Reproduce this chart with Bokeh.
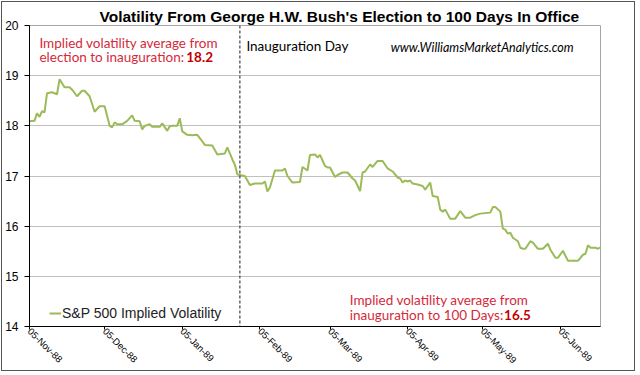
import math
import datetime as dt
import pandas as pd
from bokeh.plotting import figure
from bokeh.models import (ColumnDataSource, Span, Label, Legend, LegendItem,
                          FixedTicker, DatetimeTickFormatter, Range1d)
from bokeh.embed import file_html
from bokeh.resources import INLINE

# ---------------- data ----------------
dates = [
    "1988-11-05", "1988-11-07", "1988-11-08", "1988-11-09", "1988-11-10", "1988-11-11",
    "1988-11-12", "1988-11-14", "1988-11-16", "1988-11-17", "1988-11-19", "1988-11-21",
    "1988-11-22", "1988-11-24", "1988-11-26", "1988-11-27", "1988-11-29", "1988-12-01",
    "1988-12-03", "1988-12-05", "1988-12-07", "1988-12-08", "1988-12-09", "1988-12-10",
    "1988-12-12", "1988-12-14", "1988-12-16", "1988-12-17", "1988-12-19", "1988-12-20",
    "1988-12-21", "1988-12-23", "1988-12-24", "1988-12-27", "1988-12-28", "1988-12-30",
    "1988-12-31", "1989-01-01", "1989-01-03", "1989-01-04", "1989-01-05", "1989-01-07",
    "1989-01-09", "1989-01-11", "1989-01-13", "1989-01-14", "1989-01-17", "1989-01-19",
    "1989-01-22", "1989-01-23", "1989-01-25", "1989-01-26", "1989-01-27", "1989-01-28",
    "1989-01-30", "1989-02-01", "1989-02-03", "1989-02-06", "1989-02-07", "1989-02-08",
    "1989-02-09", "1989-02-11", "1989-02-14", "1989-02-15", "1989-02-16", "1989-02-18",
    "1989-02-21", "1989-02-22", "1989-02-24", "1989-02-25", "1989-02-27", "1989-02-28",
    "1989-03-01", "1989-03-03", "1989-03-04", "1989-03-05", "1989-03-07", "1989-03-08",
    "1989-03-10", "1989-03-12", "1989-03-14", "1989-03-15", "1989-03-17", "1989-03-18",
    "1989-03-19", "1989-03-21", "1989-03-22", "1989-03-24", "1989-03-26", "1989-03-28",
    "1989-03-30", "1989-04-01", "1989-04-02", "1989-04-03", "1989-04-04", "1989-04-05",
    "1989-04-06", "1989-04-07", "1989-04-09", "1989-04-11", "1989-04-12", "1989-04-14",
    "1989-04-15", "1989-04-17", "1989-04-18", "1989-04-19", "1989-04-20", "1989-04-22",
    "1989-04-24", "1989-04-26", "1989-04-28", "1989-04-30", "1989-05-02", "1989-05-04",
    "1989-05-08", "1989-05-09", "1989-05-10", "1989-05-12", "1989-05-13", "1989-05-14",
    "1989-05-15", "1989-05-16", "1989-05-17", "1989-05-19", "1989-05-20", "1989-05-21",
    "1989-05-22", "1989-05-24", "1989-05-25", "1989-05-27", "1989-05-29", "1989-05-31",
    "1989-06-01", "1989-06-03", "1989-06-04", "1989-06-06", "1989-06-08", "1989-06-10",
    "1989-06-12", "1989-06-14", "1989-06-15", "1989-06-16", "1989-06-17", "1989-06-19",
    "1989-06-20", "1989-06-21",
]
implied_vol = [
    18.09, 18.10, 18.25, 18.18, 18.29, 18.27,
    18.65, 18.67, 18.63, 18.93, 18.77, 18.77,
    18.72, 18.59, 18.70, 18.70, 18.59, 18.28,
    18.39, 18.39, 18.00, 17.97, 18.07, 18.03,
    18.03, 18.10, 18.21, 18.10, 18.09, 17.93,
    18.00, 18.03, 17.98, 17.98, 18.05, 17.90,
    17.99, 18.00, 18.00, 18.15, 17.89, 17.82,
    17.81, 17.82, 17.69, 17.62, 17.61, 17.43,
    17.45, 17.57, 17.33, 17.23, 17.03, 17.02,
    17.00, 16.82, 16.85, 16.85, 16.89, 16.69,
    16.77, 17.11, 17.11, 17.15, 17.00, 16.87,
    16.88, 17.18, 17.11, 17.42, 17.43, 17.37,
    17.42, 17.20, 17.17, 17.17, 16.98, 17.02,
    17.07, 17.07, 16.95, 16.91, 16.70, 17.07,
    17.09, 17.23, 17.18, 17.30, 17.30, 17.15,
    17.09, 16.97, 16.95, 16.87, 16.91, 16.89,
    16.91, 16.85, 16.83, 16.80, 16.73, 16.87,
    16.60, 16.58, 16.33, 16.29, 16.33, 16.15,
    16.15, 16.30, 16.17, 16.17, 16.22, 16.25,
    16.27, 16.38, 16.38, 16.29, 15.95, 15.93,
    15.85, 15.87, 15.77, 15.70, 15.57, 15.55,
    15.55, 15.70, 15.67, 15.55, 15.55, 15.65,
    15.53, 15.37, 15.37, 15.51, 15.31, 15.31,
    15.31, 15.43, 15.45, 15.62, 15.57, 15.57,
    15.55, 15.58,
]
tick_dates = ["1988-11-05", "1988-12-05", "1989-01-05", "1989-02-05",
              "1989-03-05", "1989-04-05", "1989-05-05", "1989-06-05"]
y_ticks = [14, 15, 16, 17, 18, 19, 20]
inauguration_marker = "1989-01-28"
avg_election_to_inauguration = 18.2
avg_inauguration_to_100_days = 16.5
series_name = "S&P 500 Implied Volatility"
title_text = "Volatility From George H.W. Bush's Election to 100 Days In Office"

# ---------------- figure ----------------
x_start = dt.datetime(1988, 11, 5)
x_end = dt.datetime(1989, 6, 21)

def when(days):
    return x_start + dt.timedelta(days=days)

src = ColumnDataSource(dict(date=pd.to_datetime(dates), iv=implied_vol))

p = figure(width=634, height=370, x_axis_type="datetime",
           x_range=Range1d(x_start, x_end), y_range=Range1d(14, 20),
           toolbar_location=None, output_backend="svg",
           min_border_left=24, min_border_right=36,
           min_border_top=23, min_border_bottom=46)
p.styles = {"border": "1px solid #555555", "margin": "1px 0 0 1px"}
p.background_fill_color = "white"
p.border_fill_color = "white"
p.outline_line_color = "#a6a6a6"
p.outline_line_width = 1

# title
p.title.text = title_text
p.title.align = "left"
p.title.offset = 70
p.title.standoff = 2
p.title.text_font = "Liberation Sans"
p.title.text_font_style = "bold"
p.title.text_font_size = "15.5px"
p.title.text_color = "#000000"

# axes
p.xaxis.ticker = FixedTicker(ticks=[pd.Timestamp(d).value / 1e6 for d in tick_dates])
p.xaxis.formatter = DatetimeTickFormatter(days="%d-%b-%y", months="%d-%b-%y",
                                          years="%d-%b-%y")
p.xaxis.major_label_orientation = -math.pi / 4
p.xaxis.major_label_text_font = "Liberation Sans"
p.xaxis.major_label_text_font_size = "9.5px"
p.xaxis.major_label_text_color = "#000000"
p.xaxis.major_tick_out = 3
p.xaxis.major_tick_in = 0
p.xaxis.minor_tick_line_color = None
p.xaxis.axis_line_color = "#000000"
p.xaxis.major_tick_line_color = "#000000"
p.xaxis.major_label_standoff = 0

p.yaxis.ticker = FixedTicker(ticks=y_ticks)
p.yaxis.major_label_text_font = "Liberation Sans"
p.yaxis.major_label_text_font_size = "12px"
p.yaxis.major_label_text_color = "#000000"
p.yaxis.major_tick_out = 5
p.yaxis.major_tick_in = 0
p.yaxis.minor_tick_line_color = None
p.yaxis.axis_line_color = "#000000"
p.yaxis.major_tick_line_color = "#000000"
p.yaxis.major_label_standoff = 6

p.xgrid.visible = False
p.ygrid.grid_line_color = "#c0c0c0"
p.ygrid.grid_line_width = 1

# series
r = p.line(x="date", y="iv", source=src, line_color="#9bbb59", line_width=2)

# inauguration marker
p.add_layout(Span(location=pd.Timestamp(inauguration_marker), dimension="height",
                  line_color="#4d4d4d", line_dash="3 2", line_width=1.3))

# legend
legend = Legend(items=[LegendItem(label=series_name, renderers=[r])],
                location=(20, 5), orientation="vertical")
legend.label_text_font = "Liberation Sans"
legend.label_text_font_size = "14px"
legend.label_text_color = "#222222"
legend.glyph_width = 12
legend.glyph_height = 14
legend.label_height = 14
legend.label_standoff = 1
legend.padding = 0
legend.margin = 0
legend.spacing = 0
legend.border_line_alpha = 0
legend.background_fill_alpha = 0
p.add_layout(legend)

# texts
red = "#d42a3a"
dark_red = "#c00000"
ann_font = "Lato"
ann_size = "13.5px"

def note(x, y, text, size=ann_size, color=red, style="normal"):
    p.add_layout(Label(x=x, y=y, text=text, text_font=ann_font, text_font_size=size,
                       text_color=color, text_font_style=style,
                       text_baseline="alphabetic"))

note(when(3.97), 19.65, "Implied volatility average from")
note(when(3.97), 19.37, "election to inauguration:")
note(when(62.6), 19.37, f"{avg_election_to_inauguration:.1f}", color=dark_red, style="bold")

note(when(86.6), 19.60, "Inauguration Day", color="#000000")
note(when(144.2), 19.56, "www.WilliamsMarketAnalytics.com", size="12.5px",
     color="#000000", style="italic")

note(when(127.9), 14.52, "Implied volatility average from")
note(when(127.9), 14.22, "inauguration to 100 Days:")
note(when(189.5), 14.22, f"{avg_inauguration_to_100_days:.1f}", color=dark_red, style="bold")

open("out.html", "w").write(file_html(p, INLINE))
